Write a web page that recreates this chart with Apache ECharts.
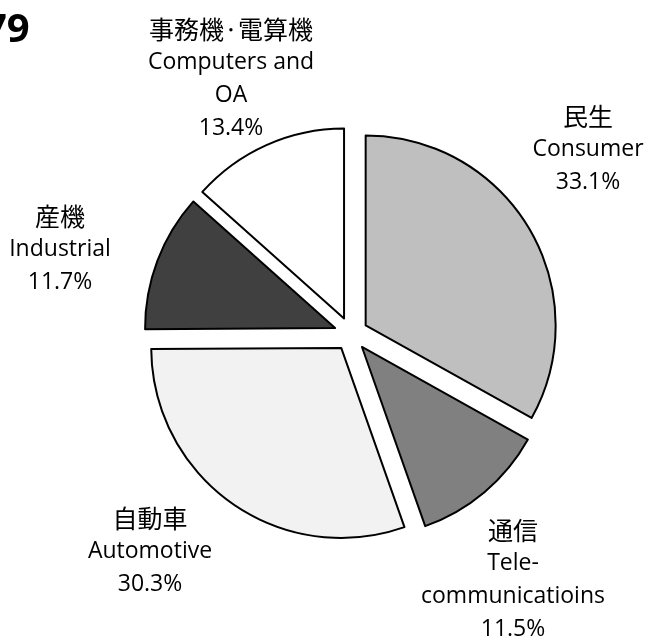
<!DOCTYPE html>
<html>
<head>
<meta charset="utf-8">
<style>
  html, body { margin: 0; padding: 0; background: #fff; }
  #chart { width: 650px; height: 636px; }
</style>
<script src="https://cdn.jsdelivr.net/npm/echarts@6/dist/echarts.min.js"></script>
</head>
<body>
<div id="chart"></div>
<script>
// 構成比（%）、12時の位置から時計回り
const namesJa = ["民生", "通信", "自動車", "産機", "事務機·電算機"];
const namesEn = ["Consumer", "Tele-\ncommunicatioins", "Automotive", "Industrial", "Computers and\nOA"];
const shares = [33.1, 11.5, 30.3, 11.7, 13.4];
const fills = ["#bfbfbf", "#808080", "#f2f2f2", "#404040", "#ffffff"];
// ラベルの中心位置
const labelPos = [[588, 149], [513, 580], [150, 551], [60, 249], [231, 79]];

const FONT = '"Open Sans", "Noto Sans CJK JP", sans-serif';
const FONT_JA = '"Noto Sans CJK JP", sans-serif';
const CENTER = [351, 334];
const RADIUS = 190;

const chart = echarts.init(document.getElementById("chart"), null, { renderer: "canvas" });
chart.setOption({
    animation: false,
    graphic: [
        {
            type: "text",
            left: -16,
            top: 11,
            style: {
                text: "79",
                font: 'bold 40px "Open Sans", sans-serif',
                fill: "#000",
            },
        },
    ],
    series: [
        {
            // 切り出した扇形
            type: "pie",
            center: CENTER,
            radius: [0, RADIUS],
            startAngle: 90,
            clockwise: true,
            selectedMode: "multiple",
            selectedOffset: 17,
            itemStyle: {
                borderColor: "#000",
                borderWidth: 2,
            },
            emphasis: { disabled: true },
            label: { show: false },
            labelLine: { show: false },
            data: shares.map((v, i) => ({
                value: v,
                name: namesJa[i],
                selected: true,
                itemStyle: { color: fills[i] },
                select: { itemStyle: { color: fills[i], borderColor: "#000", borderWidth: 2 } },
            })),
        },
        {
            // ラベル用（透明）
            type: "pie",
            center: CENTER,
            radius: [0, RADIUS],
            startAngle: 90,
            clockwise: true,
            selectedMode: false,
            silent: true,
            avoidLabelOverlap: false,
            itemStyle: { color: "rgba(0,0,0,0)", borderWidth: 0 },
            emphasis: { disabled: true },
            labelLine: { show: false },
            label: {
                show: true,
                position: "outside",
                fontFamily: FONT,
                fontSize: 23,
                lineHeight: 33,
                color: "#000",
                align: "center",
                formatter: (p) => `{ja|${namesJa[p.dataIndex]}}\n${namesEn[p.dataIndex]}\n${shares[p.dataIndex].toFixed(1)}%`,
                rich: {
                    ja: {
                        fontFamily: FONT_JA,
                        fontSize: 25,
                        lineHeight: 33,
                        color: "#000",
                    },
                },
            },
            labelLayout: (params) => {
                const pos = labelPos[params.dataIndex];
                return {
                    x: pos[0],
                    y: pos[1],
                    align: "center",
                    verticalAlign: "middle",
                };
            },
            data: shares.map((v, i) => ({ value: v, name: namesJa[i] })),
        },
    ],
});
</script>
</body>
</html>
